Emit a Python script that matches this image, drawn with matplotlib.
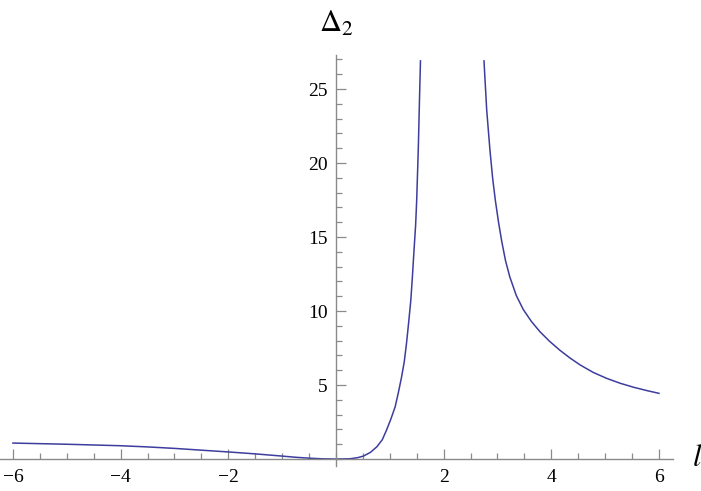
import numpy as np
import matplotlib.pyplot as plt
from matplotlib.ticker import MultipleLocator, FixedLocator

plt.rcParams['font.family'] = ['Liberation Serif', 'DejaVu Serif']
plt.rcParams['mathtext.fontset'] = 'stix'

# curve, split at the pole near l ~ 2
l_left = [-6.0, -5.5, -5.0, -4.5, -4.0, -3.5, -3.0, -2.5, -2.0, -1.5, -1.0,
          -0.75, -0.5, -0.25, 0.0, 0.26, 0.4, 0.51, 0.64, 0.76, 0.86, 0.94,
          1.02, 1.10, 1.16, 1.22, 1.27, 1.31, 1.35, 1.39, 1.42, 1.45, 1.48,
          1.50, 1.53, 1.55, 1.57]
d_left = [1.08, 1.04, 1.0, 0.95, 0.9, 0.82, 0.72, 0.6, 0.48, 0.35, 0.2,
          0.12, 0.06, 0.015, 0.0, 0.02, 0.09, 0.2, 0.45, 0.83, 1.3, 1.96,
          2.7, 3.53, 4.5, 5.56, 6.6, 7.8, 9.2, 10.7, 12.3, 14.1, 15.8,
          17.5, 21.0, 24.0, 26.9]
l_right = [2.75, 2.80, 2.86, 2.91, 2.96, 3.02, 3.08, 3.15, 3.23, 3.35, 3.48,
           3.63, 3.79, 3.97, 4.16, 4.35, 4.54, 4.78, 5.03, 5.28, 5.53, 5.77, 6.0]
d_right = [26.9, 23.6, 20.9, 19.0, 17.5, 16.0, 14.7, 13.4, 12.3, 11.05, 10.1,
           9.3, 8.6, 7.95, 7.35, 6.82, 6.35, 5.85, 5.45, 5.12, 4.85, 4.63, 4.44]

x_major = [-6, -4, -2, 2, 4, 6]
y_major = [5, 10, 15, 20, 25]

fig = plt.figure(figsize=(7.01, 4.91), dpi=100)
ax = fig.add_axes([0.0, 0.050, 0.96, 0.838])

line_color = '#3d3d9e'
ax.plot(l_left, d_left, color=line_color, lw=1.1)
ax.plot(l_right, d_right, color=line_color, lw=1.1)

ax.set_xlim(-6.24, 6.26)
ax.set_ylim(-0.5, 27.3)

# Mathematica-style axes through the origin
for side in ['top', 'right']:
    ax.spines[side].set_visible(False)
ax.spines['left'].set_position(('data', 0))
ax.spines['bottom'].set_position(('data', 0))
for side in ['left', 'bottom']:
    ax.spines[side].set_color('#8a8a8a')
    ax.spines[side].set_linewidth(1.0)

ax.xaxis.set_major_locator(FixedLocator(x_major))
ax.xaxis.set_minor_locator(MultipleLocator(0.5))
ax.yaxis.set_major_locator(FixedLocator(y_major))
ax.yaxis.set_minor_locator(MultipleLocator(1))
ax.set_xticklabels([f'\u2212{-v}' if v < 0 else str(v) for v in x_major])
ax.set_yticklabels([str(v) for v in y_major])

ax.tick_params(axis='both', which='both', direction='in', color='#8a8a8a',
               width=0.9, labelsize=14, labelcolor='black')
ax.tick_params(axis='both', which='major', length=7)
ax.tick_params(axis='both', which='minor', length=4)
ax.tick_params(axis='x', which='major', pad=7)
ax.tick_params(axis='y', which='major', pad=6)

fig.text(697 / 701, 1 - 459 / 491, '$l$', fontsize=22, ha='center', va='center')
fig.text(336 / 701, 1 - 24 / 491, r'$\Delta_2$', fontsize=22, ha='center', va='center')

plt.savefig('out.png', dpi=100)
